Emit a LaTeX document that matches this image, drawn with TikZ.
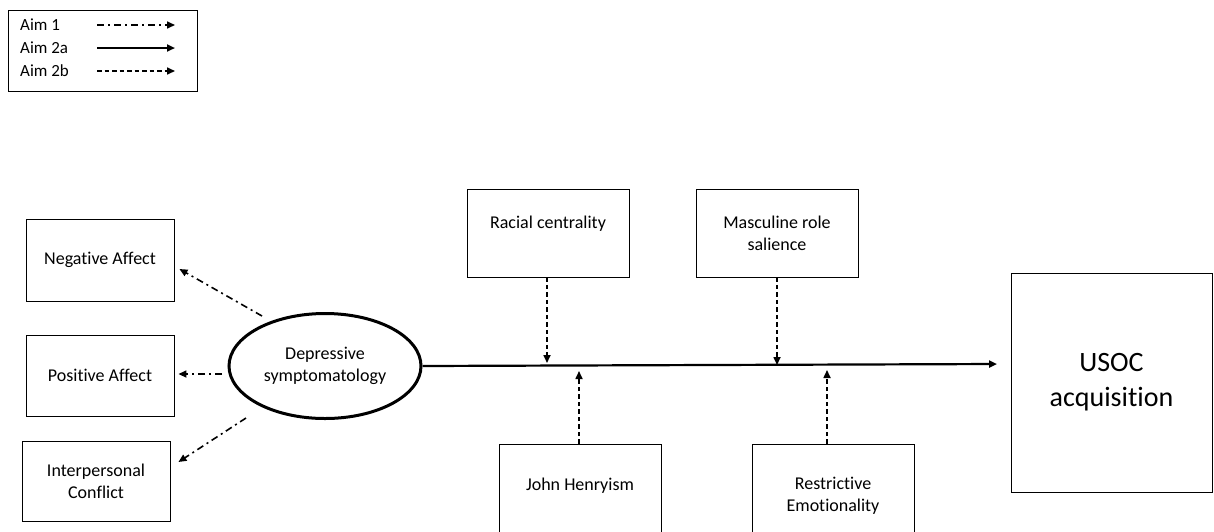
\documentclass[tikz,border=0pt]{standalone}
\usepackage{fontspec}
\setmainfont{Carlito}[Ligatures=NoCommon]
\usetikzlibrary{arrows.meta,shapes.geometric}
\begin{document}
\begin{tikzpicture}[x=1pt,y=-1pt,
  box/.style={draw,line width=0.9pt,inner sep=0pt,align=center,
    font=\fontsize{18}{22}\selectfont},
  legendbox/.style={draw,line width=0.9pt,inner sep=0pt},
  lbl/.style={inner sep=0pt,anchor=west,font=\fontsize{17}{20}\selectfont},
  latent/.style={draw,ellipse,line width=3pt,inner sep=0pt,align=center,
    font=\fontsize{18}{22}\selectfont},
  tip/.style={-{Triangle[length=8pt,width=7pt]}},
  aimone/.style={tip,line width=1.6pt,dash pattern=on 7pt off 4pt on 2pt off 4pt},
  aimtwoa/.style={tip,line width=2.2pt},
  aimtwob/.style={tip,line width=1.6pt,dash pattern=on 4.5pt off 3pt}]
\useasboundingbox (0,0) rectangle (1214,531);
\clip (0,0) rectangle (1214,531);

% legend
\node[legendbox,minimum width=189pt,minimum height=81pt] (legend) at (102.5,50.5) {};
\node[lbl] (l1) at (20,25) {Aim 1};
\node[lbl] (l2) at (20,48) {Aim 2a};
\node[lbl] (l3) at (20,71) {Aim 2b};
\coordinate (l1s) at (97,25);  \coordinate (l1e) at (175,25);
\coordinate (l2s) at (97,48);  \coordinate (l2e) at (175,48);
\coordinate (l3s) at (97,71);  \coordinate (l3e) at (175,71);
\draw[aimone] (l1s) -- (l1e);
\draw[aimtwoa] (l2s) -- (l2e);
\draw[aimtwob] (l3s) -- (l3e);

% indicators of the latent variable
\node[box,minimum width=148pt,minimum height=82pt] (neg) at (100,260) {Negative Affect};
\node[box,minimum width=148pt,minimum height=81pt] (pos) at (100,375.5) {Positive Affect};
\node[box,minimum width=148pt,minimum height=80pt] (ipc) at (96,481) {Interpersonal\\Conflict};

\node[latent,minimum width=192pt,minimum height=105pt] (dep) at (325,366) {Depressive\\symptomatology};

% moderators
\node[box,minimum width=162pt,minimum height=88pt] (race) at (548,233) {Racial centrality\\\mbox{}};
\node[box,minimum width=162pt,minimum height=88pt] (masc) at (777,233) {Masculine role\\salience};
\node[box,minimum width=162pt,minimum height=103pt] (jh) at (580,495.5) {John Henryism\\\mbox{}};
\node[box,minimum width=162pt,minimum height=103pt] (re) at (833,495.5) {Restrictive\\Emotionality};

% outcome
\node[box,minimum width=201pt,minimum height=219pt,
  font=\fontsize{28}{35}\selectfont] (usoc) at (1111.5,382.5) {USOC\\acquisition};

% measurement paths (they start and end a little off the shapes)
\coordinate (d1) at ([shift={(-63,-50)}]dep.center);
\coordinate (d2) at ([shift={(-103,8)}]dep.center);
\coordinate (d3) at ([shift={(-79,52)}]dep.center);
\coordinate (n1) at ([xshift=5pt]neg.east |- 0,269);
\coordinate (n2) at ([xshift=4pt]pos.east |- d2);
\coordinate (n3) at ([xshift=8pt]ipc.east |- 0,462);
\draw[aimone] (d1) -- (n1);
\draw[aimone] (d2) -- (n2);
\draw[aimone] (d3) -- (n3);

% main path
\coordinate (mstart) at (dep.east);
\coordinate (mend) at (997,364);
\draw[aimtwoa] (mstart) -- (mend);

% moderation paths
\coordinate (t1) at (547,363);
\coordinate (t2) at (777,365);
\coordinate (t3) at (579,371);
\coordinate (t4) at (827,370);
\draw[aimtwob] (race.south -| t1) -- (t1);
\draw[aimtwob] (masc.south -| t2) -- (t2);
\draw[aimtwob] (jh.north -| t3) -- (t3);
\draw[aimtwob] (re.north -| t4) -- (t4);
\end{tikzpicture}
\end{document}
